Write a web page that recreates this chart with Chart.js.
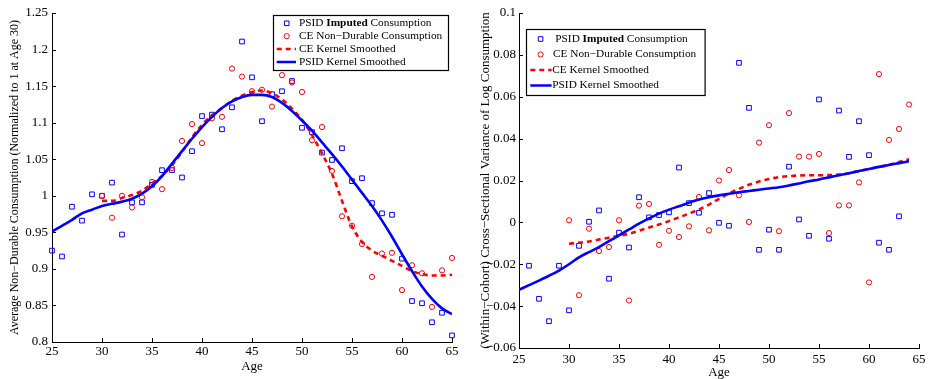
<!DOCTYPE html>
<html>
<head>
<meta charset="utf-8">
<script src="https://cdn.jsdelivr.net/npm/chart.js@4.4.1/dist/chart.umd.min.js"></script>
<style>
  html, body { margin: 0; padding: 0; background: #fff; }
  #wrap { position: relative; width: 932px; height: 379px; }
  canvas { position: absolute; top: 0; }
</style>
</head>
<body>
<div id="wrap">
  <canvas id="left" width="466" height="379" style="left:0"></canvas>
  <canvas id="right" width="466" height="379" style="left:466px"></canvas>
</div>
<script>
// ---- left panel: consumption profile ----
const psidAgesL = [25,26,27,28,29,30,31,32,33,34,35,36,37,38,39,40,41,42,43,44,45,46,47,48,49,50,51,52,53,54,55,56,57,58,59,60,61,62,63,64,65];
const psidConsL = [0.925,0.917,0.985,0.966,1.002,1.000,1.018,0.947,0.991,0.991,1.015,1.035,1.035,1.025,1.061,1.109,1.111,1.091,1.121,1.211,1.162,1.102,1.139,1.143,1.157,1.093,1.087,1.059,1.049,1.065,1.020,1.024,0.990,0.976,0.974,0.914,0.856,0.853,0.827,0.840,0.809];
const ceAgesL = [30,31,32,33,34,35,36,37,38,39,40,41,42,43,44,45,46,47,48,49,50,51,52,53,54,55,56,57,58,59,60,61,62,63,64,65];
const ceConsL = [1.000,0.970,1.000,0.984,0.998,1.019,1.009,1.038,1.075,1.098,1.072,1.106,1.108,1.174,1.163,1.143,1.145,1.122,1.165,1.155,1.142,1.076,1.094,1.034,0.972,0.959,0.934,0.889,0.921,0.922,0.871,0.905,0.894,0.848,0.898,0.915];
const psidSmoothL = [0.951,0.959,0.967,0.976,0.981,0.986,0.989,0.992,0.996,1.003,1.013,1.027,1.044,1.061,1.078,1.094,1.108,1.120,1.129,1.135,1.138,1.138,1.135,1.127,1.116,1.103,1.089,1.073,1.057,1.040,1.022,1.004,0.986,0.966,0.944,0.920,0.897,0.876,0.859,0.846,0.838];
const ceSmoothL = [0.993,0.993,0.997,1.001,1.007,1.017,1.027,1.042,1.060,1.080,1.097,1.110,1.120,1.130,1.137,1.142,1.144,1.140,1.132,1.119,1.104,1.083,1.058,1.030,0.993,0.958,0.937,0.925,0.918,0.911,0.904,0.897,0.893,0.891,0.891,0.892];
const yTicksL = [0.8,0.85,0.9,0.95,1,1.05,1.1,1.15,1.2,1.25];

// ---- right panel: variance of log consumption ----
const psidAgesR = [26,27,28,29,30,31,32,33,34,35,36,37,38,39,40,41,42,43,44,45,46,47,48,49,50,51,52,53,54,55,56,57,58,59,60,61,62,63];
const psidVarR = [-0.0207,-0.0365,-0.0472,-0.0207,-0.0420,-0.0112,0.0003,0.0057,-0.0269,-0.0049,-0.0120,0.0120,0.0024,0.0035,0.0048,0.0262,0.0092,0.0046,0.0140,-0.0002,-0.0016,0.0762,0.0547,-0.0131,-0.0035,-0.0131,0.0266,0.0014,-0.0064,0.0587,-0.0078,0.0534,0.0313,0.0483,0.0321,-0.0097,-0.0131,0.0029];
const ceAgesR = [30,31,32,33,34,35,36,37,38,39,40,41,42,43,44,45,46,47,48,49,50,51,52,53,54,55,56,57,58,59,60,61,62,63,64];
const ceVarR = [0.0010,-0.0348,-0.0030,-0.0137,-0.0118,0.0010,-0.0373,0.0080,0.0088,-0.0107,-0.0040,-0.0070,-0.0019,0.0121,-0.0038,0.0200,0.0250,0.0129,0.0002,0.0381,0.0464,-0.0042,0.0522,0.0314,0.0314,0.0327,-0.0051,0.0081,0.0081,0.0191,-0.0287,0.0708,0.0394,0.0446,0.0563];
const psidSmoothAgesR = [25,26,27,28,29,30,31,32,33,34,35,36,37,38,39,40,41,42,43,44,45,46,47,48,49,50,51,52,53,54,55,56,57,58,59,60,61,62,63,64];
const psidSmoothR = [-0.0322,-0.0300,-0.0278,-0.0255,-0.0230,-0.0200,-0.0167,-0.0142,-0.0118,-0.0090,-0.0062,-0.0034,-0.0006,0.0019,0.0042,0.0061,0.0077,0.0094,0.0109,0.0120,0.0129,0.0137,0.0144,0.0150,0.0156,0.0162,0.0168,0.0176,0.0186,0.0196,0.0205,0.0215,0.0225,0.0235,0.0245,0.0255,0.0265,0.0274,0.0283,0.0292];
const ceSmoothR = [-0.0102,-0.0097,-0.0091,-0.0082,-0.0073,-0.0064,-0.0054,-0.0040,-0.0025,-0.0010,0.0006,0.0024,0.0042,0.0062,0.0085,0.0112,0.0138,0.0160,0.0180,0.0195,0.0207,0.0216,0.0221,0.0224,0.0225,0.0225,0.0226,0.0228,0.0235,0.0245,0.0255,0.0265,0.0275,0.0288,0.0302];
const yTicksR = [-0.06,-0.04,-0.02,0,0.02,0.04,0.06,0.08,0.1];

const ageTicks = [25,30,35,40,45,50,55,60,65];
const legendText = [
  [['PSID ', false], ['Imputed', true], [' Consumption', false]],
  [['CE Non\u2212Durable Consumption', false]],
  [['CE Kernel Smoothed', false]],
  [['PSID Kernel Smoothed', false]]
];

const FONT = '"Liberation Serif", "Times New Roman", serif';
const BLUE = '#0000ff';
const RED = '#ff0000';

const pts = (xs, ys) => xs.map((x, i) => ({ x: x, y: ys[i] }));

// matlab-style ticks pointing into the plot
const innerTicks = {
  id: 'innerTicks',
  afterDraw(chart) {
    const { ctx, chartArea: a, scales } = chart;
    ctx.save();
    ctx.strokeStyle = '#000';
    ctx.lineWidth = 1;
    ctx.beginPath();
    scales.x.ticks.forEach(t => {
      const px = Math.round(scales.x.getPixelForValue(t.value)) + 0.5;
      ctx.moveTo(px, a.bottom);
      ctx.lineTo(px, a.bottom - 4);
    });
    scales.y.ticks.forEach(t => {
      const py = Math.round(scales.y.getPixelForValue(t.value)) + 0.5;
      ctx.moveTo(a.left, py);
      ctx.lineTo(a.left + 4, py);
    });
    ctx.stroke();
    ctx.restore();
  }
};

// boxed legend with a bold word in the first entry
const boxLegend = {
  id: 'boxLegend',
  afterDraw(chart, args, o) {
    const { ctx, chartArea: a } = chart;
    const bx = o.right != null ? Math.round(a.right - o.right - o.w) : Math.round(a.left + o.left);
    const by = Math.round(a.top + o.top);
    ctx.save();
    ctx.fillStyle = '#fff';
    ctx.fillRect(bx, by, o.w, o.h);
    ctx.strokeStyle = '#000';
    ctx.lineWidth = 1.2;
    ctx.strokeRect(bx + 0.5, by + 0.5, o.w, o.h);
    ctx.textBaseline = 'middle';
    legendText.forEach((parts, i) => {
      const cy = by + o.first + i * o.gap;
      if (i < 2) {
        ctx.strokeStyle = i === 0 ? BLUE : RED;
        ctx.lineWidth = 1;
        ctx.beginPath();
        if (i === 0) {
          ctx.rect(bx + o.marker - 2.3, cy - 2.3, 4.6, 4.6);
        } else {
          ctx.arc(bx + o.marker, cy, 2.6, 0, Math.PI * 2);
        }
        ctx.stroke();
      } else {
        ctx.strokeStyle = i === 2 ? RED : BLUE;
        ctx.lineWidth = 2.5;
        ctx.setLineDash(i === 2 ? [5, 4] : []);
        ctx.beginPath();
        ctx.moveTo(bx + o.line[0], cy);
        ctx.lineTo(bx + o.line[1], cy);
        ctx.stroke();
        ctx.setLineDash([]);
      }
      let tx = bx + o.textX[i];
      parts.forEach(([txt, bold]) => {
        ctx.font = (bold ? 'bold ' : '') + o.fontSize + 'px ' + FONT;
        ctx.fillStyle = '#000';
        ctx.fillText(txt, tx, cy);
        tx += ctx.measureText(txt).width;
      });
    });
    ctx.restore();
  }
};

function makeChart(id, d) {
  return new Chart(document.getElementById(id), {
    type: 'scatter',
    data: {
      datasets: [
        {
          data: pts(d.psidSmoothAges, d.psidSmooth), showLine: true, borderColor: BLUE,
          borderWidth: 2.6, pointRadius: 0, cubicInterpolationMode: 'monotone', tension: 0.4
        },
        {
          data: pts(d.ceSmoothAges, d.ceSmooth), showLine: true, borderColor: RED,
          borderWidth: 2.6, borderDash: [5, 4], pointRadius: 0, cubicInterpolationMode: 'monotone', tension: 0.4
        },
        {
          data: pts(d.ceAges, d.ce), pointStyle: 'circle', pointRadius: 2.6, pointBorderWidth: 1,
          borderColor: RED, backgroundColor: 'rgba(0,0,0,0)', clip: false
        },
        {
          data: pts(d.psidAges, d.psid), pointStyle: 'rect', pointRadius: 3.3, pointBorderWidth: 1,
          borderColor: BLUE, backgroundColor: 'rgba(0,0,0,0)', clip: false
        }
      ]
    },
    options: {
      responsive: false,
      animation: false,
      devicePixelRatio: 1,
      events: [],
      layout: { padding: d.padding },
      plugins: {
        legend: { display: false },
        tooltip: { enabled: false },
        boxLegend: d.legend
      },
      scales: {
        x: {
          type: 'linear', min: 25, max: 65,
          afterBuildTicks: s => { s.ticks = ageTicks.map(v => ({ value: v })); },
          afterFit: s => { s.height = d.xHeight; },
          grid: { display: true, drawOnChartArea: false, drawTicks: false },
          border: { display: true, color: '#000', width: 1 },
          ticks: { color: '#000', font: { family: FONT, size: 13 }, padding: d.xTickPad, maxRotation: 0, autoSkip: false },
          title: { display: true, text: 'Age', color: '#000', font: { family: FONT, size: 13, lineHeight: 1 }, padding: { top: 0, bottom: d.ageTitlePad } }
        },
        y: {
          type: 'linear', min: d.yTicks[0], max: d.yTicks[d.yTicks.length - 1],
          afterBuildTicks: s => { s.ticks = d.yTicks.map(v => ({ value: v })); },
          afterFit: s => { s.width = d.yWidth; },
          grid: { display: true, drawOnChartArea: false, drawTicks: false },
          border: { display: true, color: '#000', width: 1 },
          ticks: {
            color: '#000', font: { family: FONT, size: 13 }, padding: d.yTickPad, autoSkip: false,
            callback: v => String(v).replace('-', '\u2212')
          },
          title: { display: true, text: d.yTitle, color: '#000', font: { family: FONT, size: d.yTitleSize, lineHeight: 1 }, padding: { top: 7, bottom: 7 } }
        }
      }
    },
    plugins: [innerTicks, boxLegend]
  });
}

makeChart('left', {
  psidAges: psidAgesL, psid: psidConsL, ceAges: ceAgesL, ce: ceConsL,
  psidSmoothAges: psidAgesL, psidSmooth: psidSmoothL, ceSmoothAges: ceAgesL, ceSmooth: ceSmoothL,
  yTicks: yTicksL,
  yTitle: 'Average Non\u2212Durable Consumption (Normalized to 1 at Age 30)', yTitleSize: 12,
  padding: { left: 2, top: 13, right: 14, bottom: 0 },
  yWidth: 50, xHeight: 37, xTickPad: 2, yTickPad: 4, ageTitlePad: 6,
  legend: { right: 4.5, top: 1.7, w: 175, h: 55, first: 8.3, gap: 12.9, marker: 13.7, line: [3.7, 23], textX: [26, 26, 26, 26], fontSize: 11.3 }
});

makeChart('right', {
  psidAges: psidAgesR, psid: psidVarR, ceAges: ceAgesR, ce: ceVarR,
  psidSmoothAges: psidSmoothAgesR, psidSmooth: psidSmoothR, ceSmoothAges: ceAgesR, ceSmooth: ceSmoothR,
  yTicks: yTicksR,
  yTitle: '(Within\u2212Cohort) Cross\u2212Sectional Variance of Log Consumption', yTitleSize: 13,
  padding: { left: 6, top: 13, right: 13, bottom: 0 },
  yWidth: 47, xHeight: 31, xTickPad: 4, yTickPad: 3, ageTitlePad: 0,
  legend: { left: 7.4, top: 16, w: 178.6, h: 66, first: 10, gap: 15.5, marker: 14.6, line: [4.3, 25.6], textX: [29.3, 27, 26.3, 26.3], fontSize: 11.3 }
});
</script>
</body>
</html>
